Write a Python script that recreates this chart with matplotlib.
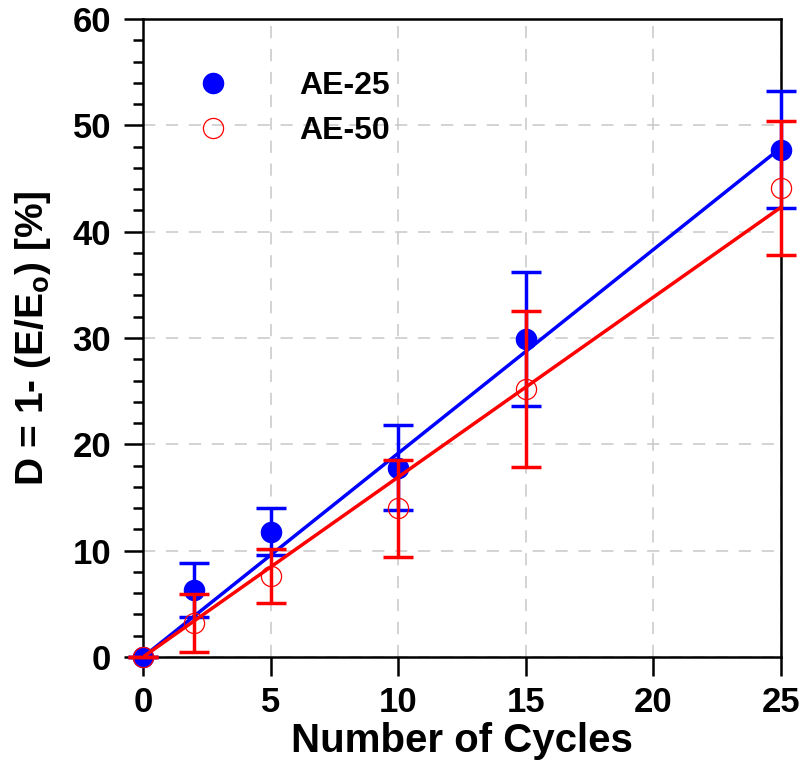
import matplotlib
matplotlib.use('Agg')
import matplotlib.pyplot as plt
from matplotlib.ticker import MultipleLocator

plt.rcParams['font.family'] = ['Liberation Sans', 'DejaVu Sans']
plt.rcParams['font.weight'] = 'bold'
plt.rcParams['mathtext.fontset'] = 'custom'
plt.rcParams['mathtext.rm'] = 'Liberation Sans:bold'
plt.rcParams['mathtext.bf'] = 'Liberation Sans:bold'

# data
cycles = [0, 2, 5, 10, 15, 25]
ae25 = [0, 6.3, 11.8, 17.8, 29.9, 47.7]
ae25_err = [0, 2.5, 2.2, 4.0, 6.3, 5.5]
ae50 = [0, 3.2, 7.6, 14.0, 25.2, 44.1]
ae50_err = [0, 2.75, 2.55, 4.55, 7.3, 6.3]

# linear fit lines
fit_x = [0, 25]
ae25_fit = [0, 47.9]
ae50_fit = [0, 42.3]

x_ticks = [0, 5, 10, 15, 20, 25]

fig = plt.figure(figsize=(8.05, 7.67), dpi=100)
ax = fig.add_axes([0.1776, 0.1434, 0.7926, 0.8318])

blue = '#0000ff'
red = '#ff0000'

eb = ax.errorbar(cycles, ae25, yerr=ae25_err, fmt='none', ecolor=blue,
                 elinewidth=2.5, capsize=10.5, capthick=2.5, zorder=3)
for art in eb.lines[1] + eb.lines[2]:
    art.set_clip_on(False)
ax.plot(cycles, ae25, 'o', color=blue, markersize=14.5, zorder=4,
        label='AE-25', clip_on=False)
ax.plot(fit_x, ae25_fit, '-', color=blue, lw=2.5, zorder=5)

eb = ax.errorbar(cycles, ae50, yerr=ae50_err, fmt='none', ecolor=red,
                 elinewidth=2.5, capsize=10.5, capthick=2.5, zorder=6)
for art in eb.lines[1] + eb.lines[2]:
    art.set_clip_on(False)
ax.plot(cycles, ae50, 'o', mfc='none', mec=red, mew=0.9, markersize=14.5,
        zorder=7, label='AE-50', clip_on=False)
ax.plot(fit_x, ae50_fit, '-', color=red, lw=2.5, zorder=8)

ax.set_xlim(0, 25)
ax.set_ylim(0, 60)
ax.set_xticks(x_ticks)
ax.yaxis.set_major_locator(MultipleLocator(10))
ax.yaxis.set_minor_locator(MultipleLocator(2))

ax.grid(True, which='major', color='#c8c8c8', linestyle=(0, (8, 7)), lw=1.1, zorder=0)

for s in ax.spines.values():
    s.set_linewidth(1.8)
    s.set_zorder(2)
ax.tick_params(axis='both', which='major', direction='out', length=14,
               width=1.8, labelsize=25, top=False, right=False)
ax.tick_params(axis='y', which='major', pad=9)
ax.tick_params(axis='x', which='major', pad=7)
ax.tick_params(axis='y', which='minor', direction='out', length=7, width=1.8)

ax.set_xlabel('Number of Cycles', fontsize=29, fontweight='bold', labelpad=2)
ax.set_ylabel(r'D = 1- (E/E$_\mathbf{o}$) [%]', fontsize=28, fontweight='bold', labelpad=14)

ax.legend(loc='upper left', bbox_to_anchor=(0.04, 0.963), frameon=False,
          fontsize=23, handlelength=1.0, handletextpad=2.2, labelspacing=0.46,
          numpoints=1)

fig.savefig('out.png', dpi=100)
